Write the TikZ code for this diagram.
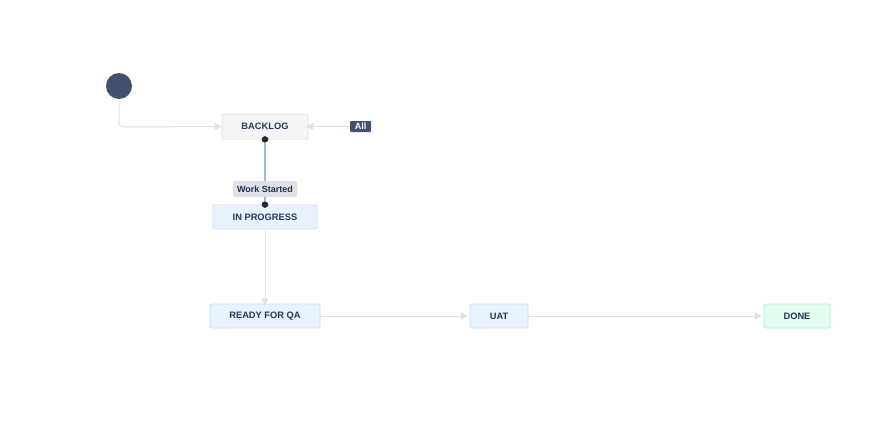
\documentclass[tikz,border=0pt]{standalone}
\usepackage{fontspec}
\setmainfont{Liberation Sans}
\usetikzlibrary{arrows.meta}
\definecolor{txt}{HTML}{253858}
\definecolor{conn}{HTML}{DFE1E6}
\definecolor{graybg}{HTML}{F4F5F7}
\definecolor{grayln}{HTML}{DFE1E6}
\definecolor{bluebg}{HTML}{E9F2FF}
\definecolor{blueln}{HTML}{C7DDFF}
\definecolor{greenbg}{HTML}{E3FCEF}
\definecolor{greenln}{HTML}{ABF5D1}
\definecolor{navy}{HTML}{42526E}
\definecolor{selblue}{HTML}{94BBF7}
\definecolor{lblbg}{HTML}{DFE1E6}
\tikzset{
  status/.style={draw, rounded corners=2pt, line width=0.8pt, inner sep=0pt,
    font=\fontsize{9.3}{10}\selectfont\bfseries, text=txt},
  todo/.style={status, fill=graybg, draw=grayln},
  prog/.style={status, fill=bluebg, draw=blueln},
  done/.style={status, fill=greenbg, draw=greenln},
  conn/.style={draw=conn, line width=1pt, -{Triangle[length=7pt,width=7pt]}},
  dot/.style={circle, fill=black!85, inner sep=0pt, minimum size=6.5pt},
}
\begin{document}
\begin{tikzpicture}[x=1pt,y=-1pt]
\useasboundingbox (0,0) rectangle (891,434);
\fill[white] (0,0) rectangle (891,434);
\node[circle, fill=navy, minimum size=26pt, inner sep=0pt] (start) at (119,86) {};
\node[todo, minimum width=86pt, minimum height=25pt] (backlog) at (265,126.5) {BACKLOG};
\node[prog, minimum width=104pt, minimum height=24pt] (inprog) at (265,217) {IN PROGRESS};
\node[prog, minimum width=110pt, minimum height=24pt] (rqa) at (265,316) {READY FOR QA};
\node[prog, minimum width=58pt, minimum height=24pt] (uat) at (499,316) {UAT};
\node[done, minimum width=66pt, minimum height=24pt] (done) at (797,316) {DONE};
\node[fill=navy, text=white, rounded corners=1pt, inner sep=0pt, minimum width=21pt, minimum height=11pt,
  font=\fontsize{9}{9}\selectfont\bfseries] (all) at (360.5,126.5) {All};
\draw[conn, rounded corners=4pt] (start.south) -- (119,127) -- (backlog.west);
\draw[conn] (all.west) -- ([xshift=-2pt]backlog.east);
\node[dot] (d1) at (backlog.south) {};
\node[dot] (d2) at (inprog.north) {};
\draw[selblue, line width=1.3pt] (d1) -- (d2);
\node[fill=lblbg, rounded corners=2pt, inner sep=0pt, minimum width=64pt, minimum height=16pt,
  font=\fontsize{9}{9}\selectfont\bfseries, text=txt!90!black] (ws) at (265,189) {Work Started};
\draw[conn] (inprog.south) -- ([yshift=-2pt]rqa.north);
\draw[conn] (rqa.east) -- ([xshift=-2pt]uat.west);
\draw[conn] (uat.east) -- ([xshift=-2pt]done.west);
\end{tikzpicture}
\end{document}
